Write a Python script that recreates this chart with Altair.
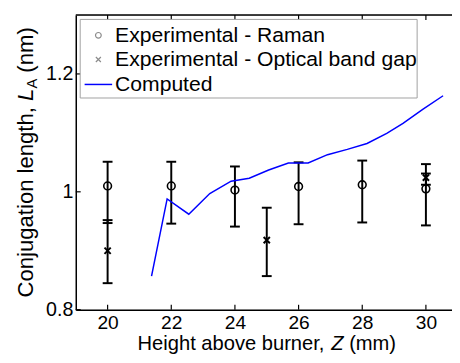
import altair as alt
import pandas as pd

# ---------------- data ----------------
z_raman = [20, 22, 24, 26, 28, 30]
la_raman = [1.010, 1.010, 1.003, 1.009, 1.012, 1.005]
raman_lo = [0.947, 0.946, 0.941, 0.945, 0.948, 0.943]
raman_hi = [1.051, 1.051, 1.043, 1.050, 1.053, 1.047]

z_optical = [20, 25, 30]
la_optical = [0.900, 0.918, 1.024]
optical_lo = [0.845, 0.857, 1.012]
optical_hi = [0.952, 0.973, 1.031]

z_computed = [21.38, 21.87, 22.55, 23.21, 23.88, 24.45, 25.06, 25.68,
              26.30, 26.91, 27.53, 28.15, 28.77, 29.28, 29.90, 30.54]
la_computed = [0.857, 0.988, 0.962, 0.997, 1.018, 1.023, 1.037, 1.049,
               1.049, 1.063, 1.072, 1.082, 1.099, 1.116, 1.140, 1.163]

x_ticks = [20, 22, 24, 26, 28, 30]
y_ticks = [0.8, 1.0, 1.2]
legend_labels = ["Experimental - Raman", "Experimental - Optical band gap", "Computed"]
x_title = ["Height above burner, ", "Z", " (mm)"]
y_title = ["Conjugation length, ", "L", "A", " (nm)"]

# ---------------- layout ----------------
W, H = 383, 300
FONT = "Liberation Sans"
X_DOMAIN = [19, 30.82]
Y_DOMAIN = [0.8, 1.3]

df_raman = pd.DataFrame({"z": z_raman, "la": la_raman, "lo": raman_lo, "hi": raman_hi})
df_opt = pd.DataFrame({"z": z_optical, "la": la_optical, "lo": optical_lo, "hi": optical_hi})
df_comp = pd.DataFrame({"z": z_computed, "la": la_computed})
df_xt = pd.DataFrame({"z": x_ticks})
df_yt = pd.DataFrame({"la": y_ticks})

xs = alt.Scale(domain=X_DOMAIN, nice=False, zero=False)
ys = alt.Scale(domain=Y_DOMAIN, nice=False, zero=False)

x_axis = alt.Axis(values=x_ticks, format="d", title=None, ticks=False, tickSize=0,
                  labelPadding=4, labelFontSize=19.5, labelFont=FONT, labelColor="black",
                  domainColor="black", domainWidth=1.5, grid=False, labelFlush=False)
y_axis = alt.Axis(values=y_ticks, format="~g", title=None, ticks=False, tickSize=0,
                  labelPadding=3, labelFontSize=20, labelFont=FONT, labelColor="black",
                  domainColor="black", domainWidth=1.5, grid=False, labelFlush=False)


def X(field):
    return alt.X(field, type="quantitative", scale=xs, axis=x_axis)


def Y(field):
    return alt.Y(field, type="quantitative", scale=ys, axis=y_axis)


one = alt.Data(values=[{}])

layers = []

# error bars
for df in (df_raman, df_opt):
    layers.append(alt.Chart(df).mark_rule(color="black", strokeWidth=2).encode(
        x=X("z"), y=Y("lo"), y2="hi"))
    for end in ("lo", "hi"):
        layers.append(alt.Chart(df).mark_rule(color="black", strokeWidth=2,
                                               xOffset=-5, x2Offset=5).encode(
            x=X("z"), x2="z", y=Y(end)))

# computed line
layers.append(alt.Chart(df_comp).mark_line(color="#0000ff", strokeWidth=1.5).encode(
    x=X("z"), y=Y("la")))

# markers
layers.append(alt.Chart(df_raman).mark_point(shape="circle", size=62, filled=False,
                                              color="black", strokeWidth=1.6, opacity=1).encode(
    x=X("z"), y=Y("la")))
CROSS = "M-1,-1L1,1M-1,1L1,-1"
layers.append(alt.Chart(df_opt).mark_point(shape=CROSS, size=40, filled=False,
                                            color="black", strokeWidth=2, opacity=1).encode(
    x=X("z"), y=Y("la")))

# inward ticks (MATLAB style) and top frame line
layers.append(alt.Chart(df_xt).mark_rule(color="black", strokeWidth=1.2).encode(
    x=X("z"), y=alt.value(H), y2=alt.value(H - 5)))
layers.append(alt.Chart(df_xt).mark_rule(color="black", strokeWidth=1.2).encode(
    x=X("z"), y=alt.value(0), y2=alt.value(5)))
layers.append(alt.Chart(df_yt).mark_rule(color="black", strokeWidth=1.2).encode(
    y=Y("la"), x=alt.value(0), x2=alt.value(5)))
layers.append(alt.Chart(one).mark_rule(color="black", strokeWidth=1.5).encode(
    x=alt.value(0), x2=alt.value(W), y=alt.value(0)))

# legend
layers.append(alt.Chart(one).mark_rect(fill="white", stroke="#a0a0a0", strokeWidth=1).encode(
    x=alt.value(4.5), x2=alt.value(347.5), y=alt.value(4.5), y2=alt.value(84.5)))
leg_y = [20.7, 45.3, 70.7]
layers.append(alt.Chart(one).mark_point(shape="circle", size=34, filled=False,
                                        color="#8c8c8c", strokeWidth=1.2, opacity=1).encode(
    x=alt.value(23), y=alt.value(leg_y[0])))
layers.append(alt.Chart(one).mark_point(shape=CROSS, size=26, filled=False,
                                        color="#8c8c8c", strokeWidth=1.2, opacity=1).encode(
    x=alt.value(23), y=alt.value(leg_y[1])))
layers.append(alt.Chart(one).mark_rule(color="#0000ff", strokeWidth=1.5).encode(
    x=alt.value(9), x2=alt.value(37), y=alt.value(leg_y[2])))
for lab, yy in zip(legend_labels, leg_y):
    layers.append(alt.Chart(one).mark_text(text=lab, align="left", baseline="middle",
                                           fontSize=21.5, font=FONT, color="black").encode(
        x=alt.value(40), y=alt.value(yy + 1)))

# axis titles built from segments (italic symbols)
AW = {" ": 278, "(": 333, ")": 333, ",": 278, "-": 333, "A": 667, "C": 722, "E": 667,
      "H": 722, "L": 556, "O": 778, "Z": 611, "a": 556, "b": 556, "c": 500, "d": 556,
      "e": 556, "g": 556, "h": 556, "i": 222, "j": 222, "l": 222, "m": 833, "n": 556,
      "o": 556, "p": 556, "r": 333, "t": 278, "u": 556, "v": 500, "x": 500}


def tw(s, size):
    return sum(AW.get(c, 556) for c in s) * size / 1000.0


def lead(s):
    return len(s) - len(s.lstrip(" "))


# x title
TS = 20.5
total = sum(tw(s, TS) for s in x_title)
pos = 194.5 - total / 2
for i, s in enumerate(x_title):
    start = pos + tw(" " * lead(s), TS)
    layers.append(alt.Chart(one).mark_text(text=s.strip(), align="left", baseline="alphabetic",
                                           fontSize=TS, font=FONT, color="black",
                                           fontStyle="italic" if i == 1 else "normal").encode(
        x=alt.value(start), y=alt.value(H + 41)))
    pos += tw(s, TS)

# y title (rotated)
YS = 22.5
y_sizes = [YS, YS, 15, YS]
total = sum(tw(s, sz) for s, sz in zip(y_title, y_sizes))
pos = H / 2 + total / 2
for i, (s, sz) in enumerate(zip(y_title, y_sizes)):
    start = pos - tw(" " * lead(s), sz)
    layers.append(alt.Chart(one).mark_text(text=s.strip(), align="left", baseline="alphabetic",
                                           angle=270, fontSize=sz, font=FONT, color="black",
                                           fontStyle="italic" if i == 1 else "normal").encode(
        x=alt.value(-44 + (5 if i == 2 else 0)), y=alt.value(start)))
    pos -= tw(s, sz)

chart = alt.layer(*layers).properties(
    width=W, height=H,
    autosize=alt.AutoSizeParams(type="none"),
    padding={"left": 69, "top": 4, "right": 0, "bottom": 43},
).configure_view(strokeWidth=0).configure(background="white")

chart.save("out.html", embed_options={"renderer": "svg", "actions": False})
